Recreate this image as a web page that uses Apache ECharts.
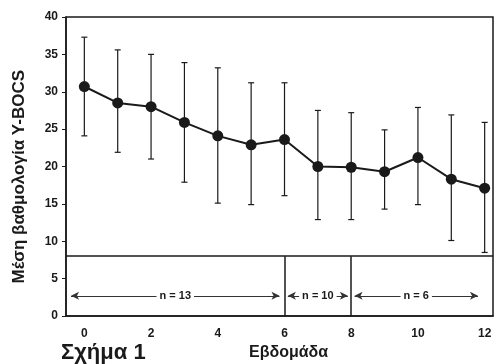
<!DOCTYPE html>
<html>
<head>
<meta charset="utf-8">
<script src="https://cdn.jsdelivr.net/npm/echarts@6/dist/echarts.min.js"></script>
<style>
  html, body { margin: 0; padding: 0; background: #fff; }
  #chart { width: 497px; height: 364px; }
</style>
</head>
<body>
<div id="chart"></div>
<script>
// weeks, mean Y-BOCS and error bar ends
const weeks = [0, 1, 2, 3, 4, 5, 6, 7, 8, 9, 10, 11, 12];
const means = [30.7, 28.5, 28.0, 25.9, 24.1, 22.9, 23.6, 20.0, 19.9, 19.3, 21.2, 18.3, 17.1];
const upper = [37.3, 35.6, 35.0, 33.9, 33.2, 31.2, 31.2, 27.5, 27.2, 24.9, 27.9, 26.9, 25.9];
const lower = [24.1, 21.9, 21.0, 17.9, 15.1, 14.9, 16.1, 12.9, 12.9, 14.3, 14.9, 10.1, 8.5];

const xTicks = [0, 2, 4, 6, 8, 10, 12];

// sample size bands under the curve
const bandLevel = 8;
const bandSplits = [6, 8];
const groupFrom = [-0.4, 6.1, 8.1];
const groupTo = [5.85, 7.9, 11.8];
const groupN = [13, 10, 6];
const arrowLevel = 2.7;

const ink = '#1a1a1a';
const font = 'Liberation Sans, Arial, sans-serif';

let myChart = echarts.init(document.getElementById('chart'));

const errData = weeks.map((w, i) => [w, lower[i], upper[i]]);

const arrowLines = groupN.map((n, i) => [
  { coord: [groupFrom[i], arrowLevel], label: { formatter: 'n = ' + n } },
  { coord: [groupTo[i], arrowLevel] },
]);

const dividers = [
  [{ coord: [-0.55, bandLevel] }, { coord: [12.25, bandLevel] }],
].concat(bandSplits.map(w => [{ coord: [w, 0] }, { coord: [w, bandLevel] }]));

let option = {
  animation: false,
  grid: {
    left: 66, right: 4, top: 17, bottom: 48,
    show: true, borderColor: ink, borderWidth: 1.5,
  },
  xAxis: {
    type: 'value',
    min: -0.55,
    max: 12.25,
    axisLine: { onZero: false, lineStyle: { color: ink, width: 1.5 } },
    axisTick: { show: false },
    splitLine: { show: false },
    axisLabel: {
      customValues: xTicks,
      color: ink, fontWeight: 'bold', fontSize: 12, fontFamily: font, margin: 12,
    },
  },
  yAxis: {
    type: 'value',
    min: 0,
    max: 40,
    interval: 5,
    axisLine: { show: true, onZero: false, lineStyle: { color: ink, width: 1.5 } },
    axisTick: { show: true, length: 4, lineStyle: { color: ink } },
    splitLine: { show: false },
    axisLabel: { color: ink, fontWeight: 'bold', fontSize: 12, fontFamily: font, margin: 8 },
  },
  graphic: [
    {
      type: 'text', left: 11, top: 70, rotation: Math.PI / 2,
      style: {
        text: 'Μέση βαθμολογία Y-BOCS', fill: ink,
        font: 'bold 17px ' + font,
      },
    },
    {
      type: 'text', left: 61, top: 342,
      style: { text: 'Σχήμα 1', fill: ink, font: 'bold 22px ' + font },
    },
    {
      type: 'text', left: 249, top: 345,
      style: { text: 'Εβδομάδα', fill: ink, font: 'bold 16px ' + font },
    },
  ],
  series: [
    {
      type: 'custom',
      data: errData,
      z: 3,
      renderItem: function (params, api) {
        const lo = api.coord([api.value(0), api.value(1)]);
        const hi = api.coord([api.value(0), api.value(2)]);
        const cap = 3;
        const style = { stroke: ink, lineWidth: 1.2 };
        return {
          type: 'group',
          children: [
            { type: 'line', shape: { x1: lo[0], y1: lo[1], x2: hi[0], y2: hi[1] }, style: style },
            { type: 'line', shape: { x1: lo[0] - cap, y1: lo[1], x2: lo[0] + cap, y2: lo[1] }, style: style },
            { type: 'line', shape: { x1: hi[0] - cap, y1: hi[1], x2: hi[0] + cap, y2: hi[1] }, style: style },
          ],
        };
      },
    },
    {
      type: 'line',
      data: weeks.map((w, i) => [w, means[i]]),
      symbol: 'circle',
      symbolSize: 11,
      z: 4,
      lineStyle: { color: ink, width: 2 },
      itemStyle: { color: ink },
      markLine: {
        silent: true,
        symbol: ['none', 'none'],
        label: { show: false },
        lineStyle: { color: ink, width: 1.5, type: 'solid' },
        data: dividers,
      },
    },
    {
      type: 'line',
      data: [],
      markLine: {
        silent: true,
        symbol: ['arrow', 'arrow'],
        symbolSize: [6, 8],
        lineStyle: { color: '#333', width: 1, type: 'solid' },
        label: {
          show: true,
          position: 'middle',
          distance: 0,
          verticalAlign: 'middle',
          color: ink,
          fontWeight: 'bold',
          fontSize: 11,
          fontFamily: font,
          backgroundColor: '#fff',
          padding: [1, 3],
        },
        data: arrowLines,
      },
    },
  ],
};

myChart.setOption(option);
</script>
</body>
</html>
